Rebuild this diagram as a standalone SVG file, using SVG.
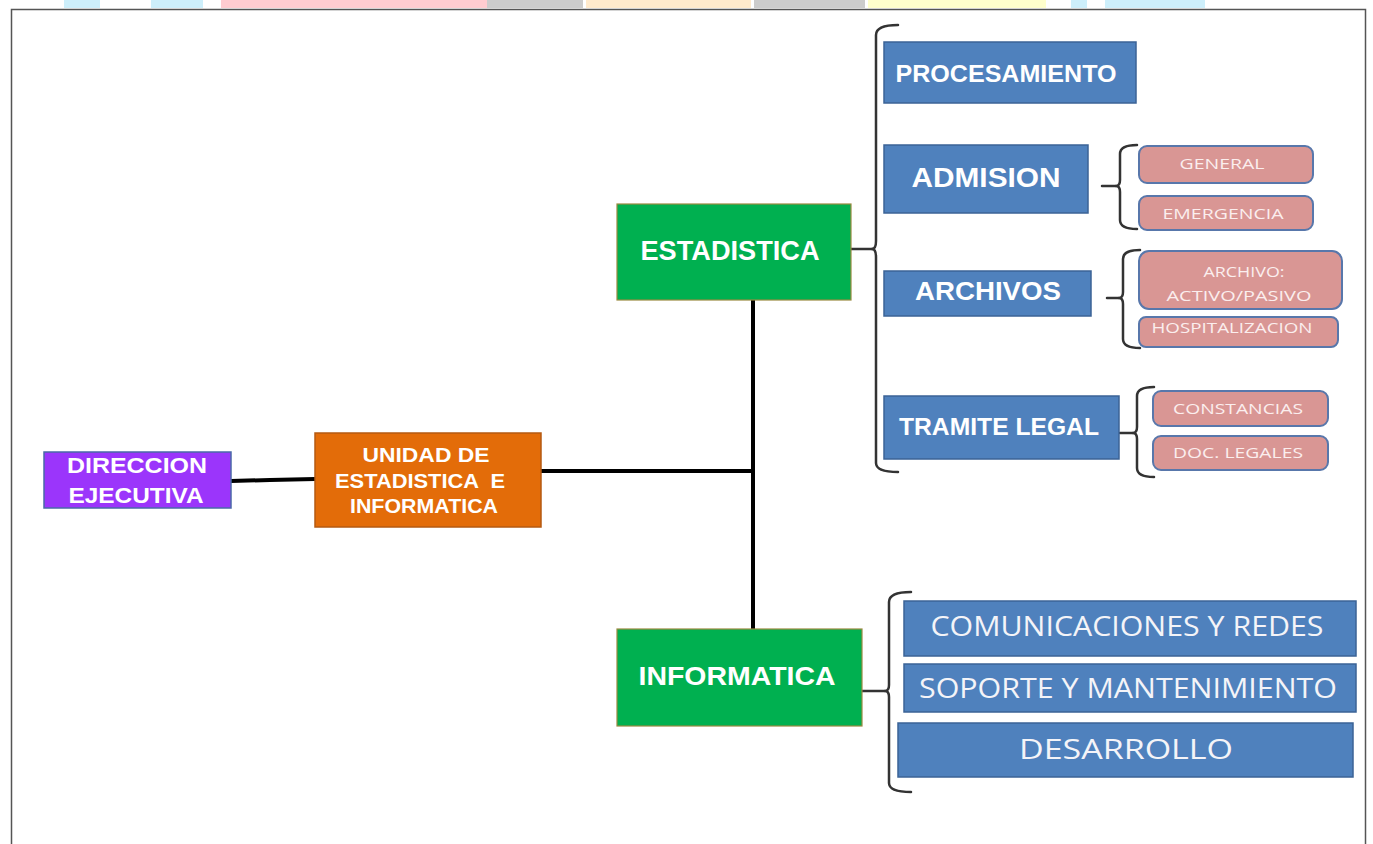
<svg xmlns="http://www.w3.org/2000/svg" width="1373" height="844" viewBox="0 0 1373 844">
<style>
.blue{fill:#4f81bd;stroke:#3b6396;stroke-width:1.5}
.pink{fill:#d99694;stroke:#5877ab;stroke-width:2}
.green{fill:#00b050;stroke:#9a8a40;stroke-width:1.2}
.tb{font-family:"Liberation Sans",Arial,sans-serif;font-weight:bold;fill:#ffffff;text-anchor:middle}
.tn{font-family:"Open Sans","Liberation Sans",sans-serif;fill:#f4f4f8;text-anchor:middle}
.ts{font-family:"Open Sans","Liberation Sans",sans-serif;fill:#fbeeee;text-anchor:middle}
.brace{fill:none;stroke:#333333;stroke-width:2.5;stroke-linecap:round;stroke-linejoin:round}
.conn{fill:none;stroke:#000000;stroke-width:4}
</style>
<rect width="1373" height="844" fill="#ffffff"/>
<g id="topstrip">
<rect x="64" y="0" width="36" height="8" fill="#cdeffb"/>
<rect x="151" y="0" width="52" height="8" fill="#cdeffb"/>
<rect x="221" y="0" width="266" height="8" fill="#ffccd0"/>
<rect x="487" y="0" width="96" height="8" fill="#cccccc"/>
<rect x="586" y="0" width="165" height="8" fill="#ffeacc"/>
<rect x="754" y="0" width="111" height="8" fill="#cccccc"/>
<rect x="868" y="0" width="178" height="8" fill="#ffffcc"/>
<rect x="1071" y="0" width="16" height="8" fill="#cdeffb"/>
<rect x="1105" y="0" width="100" height="8" fill="#cdeffb"/>
</g>
<rect id="frame" x="11.5" y="9.5" width="1354" height="845" fill="none" stroke="#555555" stroke-width="1.5"/>
<g id="connectors">
<path class="conn" d="M231 481 L270 480 L315 479"/>
<path class="conn" d="M541 471 H753"/>
<path class="conn" d="M753 300 V629"/>
<path class="brace" d="M851 249 H873"/>
<path class="brace" d="M898 25 Q876 25 876 35 V241 Q876 249 872 249 Q876 249 876 257 V463 Q876 472 898 472"/>
<path class="brace" d="M1102 186 H1116"/>
<path class="brace" d="M1137 145 Q1120 145 1120 154 V180 Q1120 186 1116 186 Q1120 186 1120 192 V220 Q1120 229 1137 229"/>
<path class="brace" d="M1107 298 H1119"/>
<path class="brace" d="M1140 250 Q1123 250 1123 259 V292 Q1123 298 1119 298 Q1123 298 1123 304 V339 Q1123 348 1140 348"/>
<path class="brace" d="M1120 433 H1133"/>
<path class="brace" d="M1154 387 Q1137 387 1137 396 V427 Q1137 433 1133 433 Q1137 433 1137 439 V468 Q1137 477 1154 477"/>
<path class="brace" d="M862 691 H885"/>
<path class="brace" d="M911 592 Q889 592 889 602 V685 Q889 691 885 691 Q889 691 889 697 V783 Q889 792 911 792"/>
</g>
<g id="direccion">
<rect x="44" y="452" width="187" height="56" fill="#9b35fb" stroke="#4a6aa8" stroke-width="1.5"/>
<text class="tb" x="137" y="473" font-size="22" textLength="140" lengthAdjust="spacingAndGlyphs" fill="#f3e8ff">DIRECCION</text>
<text class="tb" x="136" y="503" font-size="22" textLength="135" lengthAdjust="spacingAndGlyphs" fill="#f3e8ff">EJECUTIVA</text>
</g>
<g id="unidad">
<rect x="315" y="433" width="226" height="94" fill="#e36c09" stroke="#b55a12" stroke-width="1.5"/>
<text class="tb" x="426" y="462" font-size="20" textLength="127" lengthAdjust="spacingAndGlyphs" fill="#fde3cf">UNIDAD DE</text>
<text class="tb" x="420" y="488" font-size="20" textLength="170" lengthAdjust="spacingAndGlyphs" fill="#fde3cf" xml:space="preserve" style="white-space:pre">ESTADISTICA  E</text>
<text class="tb" x="424" y="513" font-size="20" textLength="148" lengthAdjust="spacingAndGlyphs" fill="#fde3cf">INFORMATICA</text>
</g>
<g id="estadistica">
<rect class="green" x="617" y="204" width="234" height="96"/>
<text class="tb" x="730" y="260" font-size="27" textLength="179" lengthAdjust="spacingAndGlyphs" fill="#fdfde6">ESTADISTICA</text>
</g>
<g id="informatica">
<rect class="green" x="617" y="629" width="245" height="97"/>
<text class="tb" x="737" y="685" font-size="25" textLength="197" lengthAdjust="spacingAndGlyphs" fill="#fdfde6">INFORMATICA</text>
</g>
<g id="procesamiento">
<rect class="blue" x="884" y="42" width="252" height="61"/>
<text class="tb" x="1006" y="82" font-size="24" textLength="221" lengthAdjust="spacingAndGlyphs">PROCESAMIENTO</text>
</g>
<g id="admision">
<rect class="blue" x="884" y="145" width="204" height="68"/>
<text class="tb" x="986" y="187" font-size="27" textLength="149" lengthAdjust="spacingAndGlyphs">ADMISION</text>
</g>
<g id="archivos">
<rect class="blue" x="884" y="271" width="207" height="45"/>
<text class="tb" x="988" y="300" font-size="25" textLength="146" lengthAdjust="spacingAndGlyphs">ARCHIVOS</text>
</g>
<g id="tramite">
<rect class="blue" x="884" y="396" width="235" height="63"/>
<text class="tb" x="999" y="435" font-size="23" textLength="200" lengthAdjust="spacingAndGlyphs">TRAMITE LEGAL</text>
</g>
<g id="general">
<rect class="pink" x="1139" y="146" width="174" height="37" rx="8"/>
<text class="ts" x="1222" y="169" font-size="14" textLength="85" lengthAdjust="spacingAndGlyphs">GENERAL</text>
</g>
<g id="emergencia">
<rect class="pink" x="1139" y="196" width="174" height="34" rx="8"/>
<text class="ts" x="1223" y="219" font-size="14" textLength="121" lengthAdjust="spacingAndGlyphs">EMERGENCIA</text>
</g>
<g id="archivo-activo">
<rect class="pink" x="1139" y="251" width="203" height="58" rx="10"/>
<text class="ts" x="1244" y="277" font-size="14" textLength="81" lengthAdjust="spacingAndGlyphs">ARCHIVO:</text>
<text class="ts" x="1239" y="301" font-size="14" textLength="145" lengthAdjust="spacingAndGlyphs">ACTIVO/PASIVO</text>
</g>
<g id="hospitalizacion">
<rect class="pink" x="1139" y="317" width="199" height="30" rx="7"/>
<text class="ts" x="1232" y="333" font-size="14" textLength="161" lengthAdjust="spacingAndGlyphs">HOSPITALIZACION</text>
</g>
<g id="constancias">
<rect class="pink" x="1153" y="391" width="175" height="35" rx="8"/>
<text class="ts" x="1238" y="414" font-size="14" textLength="130" lengthAdjust="spacingAndGlyphs">CONSTANCIAS</text>
</g>
<g id="doc-legales">
<rect class="pink" x="1153" y="436" width="175" height="34" rx="8"/>
<text class="ts" x="1238" y="458" font-size="14" textLength="130" lengthAdjust="spacingAndGlyphs">DOC. LEGALES</text>
</g>
<g id="comunicaciones">
<rect class="blue" x="904" y="601" width="452" height="55"/>
<text class="tn" x="1127" y="636" font-size="28" textLength="393" lengthAdjust="spacingAndGlyphs">COMUNICACIONES Y REDES</text>
</g>
<g id="soporte">
<rect class="blue" x="904" y="664" width="452" height="48"/>
<text class="tn" x="1128" y="698" font-size="28" textLength="418" lengthAdjust="spacingAndGlyphs">SOPORTE Y MANTENIMIENTO</text>
</g>
<g id="desarrollo">
<rect class="blue" x="898" y="723" width="455" height="54"/>
<text class="tn" x="1126" y="759" font-size="28" textLength="214" lengthAdjust="spacingAndGlyphs">DESARROLLO</text>
</g>
</svg>
